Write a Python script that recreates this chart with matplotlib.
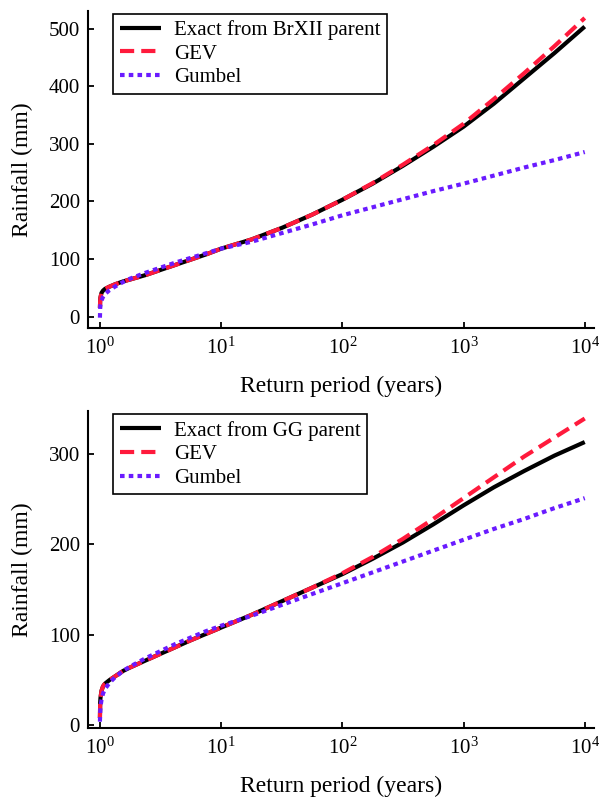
import matplotlib
matplotlib.use("Agg")
import matplotlib.pyplot as plt
from matplotlib.ticker import NullLocator

plt.rcParams['font.family'] = ['Liberation Serif', 'DejaVu Serif']
plt.rcParams['mathtext.fontset'] = 'custom'
plt.rcParams['mathtext.rm'] = 'Liberation Serif'
plt.rcParams['mathtext.it'] = 'Liberation Serif:italic'

# Return periods (years)
T = [1.0, 1.005, 1.01, 1.03, 1.06, 1.1, 1.2, 1.33, 1.55, 1.78, 2.37, 3.16, 4.22,
     5.62, 7.5, 10, 17.8, 31.6, 56.2, 100, 178, 316, 562, 1000, 1778, 3162,
     5623, 10000]

# Top panel: BrXII parent
brxii_exact = [15, 28, 33, 41, 45, 48, 52, 56, 61, 64.5, 72, 81, 90, 99, 108,
               118, 134, 154, 177, 203, 231, 262, 295, 330, 370, 414, 458, 504]
brxii_gev = [15, 28, 33, 41, 45, 48, 52, 56, 61, 64.5, 72, 81, 90, 99, 108,
             118, 134, 154, 177, 203, 232, 264, 298, 335, 378, 423, 470, 519]
brxii_gumbel = [-2, 15, 20, 28, 34, 39, 46, 52, 60, 66, 76, 85, 94, 102, 110,
                118, 130, 145, 160, 176, 190, 204, 218, 231, 245, 259, 272, 286]

# Bottom panel: GG parent
gg_exact = [8, 25, 30, 38, 43, 46, 50, 54, 60, 64, 71.5, 79, 86.5, 94, 101,
            108, 122, 137, 152, 167, 184, 202, 222, 243, 263, 281, 298, 313]
gg_gev = [8, 25, 30, 38, 43, 46, 50, 54, 60, 64, 71.5, 79, 86.5, 94, 101,
          108, 122, 137, 152, 168, 186, 206, 228, 251, 274, 297, 318, 339]
gg_gumbel = [4, 14, 20, 28, 35, 40, 47, 53, 60, 65, 74, 82, 90, 97, 104,
             110, 121, 133, 145, 157, 169, 181, 193, 205, 217, 228, 240, 251]

labels_top = ['Exact from BrXII parent', 'GEV', 'Gumbel']
labels_bot = ['Exact from GG parent', 'GEV', 'Gumbel']
xticks = [1, 10, 100, 1000, 10000]
yticks_top = [0, 100, 200, 300, 400, 500]
yticks_bot = [0, 100, 200, 300]

RED = '#ff1a3c'
BLUE = '#6a1bff'

fig = plt.figure(figsize=(6.04, 8.08), dpi=100)
ax1 = fig.add_axes([0.146, 0.594, 0.838, 0.393])
ax2 = fig.add_axes([0.146, 0.099, 0.838, 0.392])


def draw(ax, exact, gev, gum, labels, yticks, ylim):
    ax.plot(T, exact, color='black', lw=3.0, solid_capstyle='butt', label=labels[0])
    ax.plot(T, gev, color=RED, lw=3.0, ls=(0, (3.4, 1.7)), label=labels[1])
    ax.plot(T, gum, color=BLUE, lw=3.0, ls=(0, (1.1, 1.0)), label=labels[2])
    ax.set_xscale('log')
    ax.set_xlim(0.8, 12000)
    ax.set_ylim(*ylim)
    ax.set_xticks(xticks)
    ax.xaxis.set_minor_locator(NullLocator())
    ax.set_yticks(yticks)
    for s in ['top', 'right']:
        ax.spines[s].set_visible(False)
    for s in ['left', 'bottom']:
        ax.spines[s].set_linewidth(1.5)
    ax.tick_params(direction='in', length=4, width=1.3, labelsize=15, pad=6)
    ax.tick_params(axis='x', labelsize=15, pad=7)
    ax.set_xlabel('Return period (years)', fontsize=17, labelpad=12)
    ax.set_ylabel('Rainfall (mm)', fontsize=17, labelpad=11)
    leg = ax.legend(loc='upper left', bbox_to_anchor=(0.05, 0.99), fontsize=15,
                    fancybox=False, framealpha=1, edgecolor='black',
                    handlelength=2.0, handletextpad=0.6, borderpad=0.3,
                    labelspacing=0.2, borderaxespad=0.0)
    leg.get_frame().set_linewidth(1.2)


draw(ax1, brxii_exact, brxii_gev, brxii_gumbel, labels_top, yticks_top, (-20, 532))
draw(ax2, gg_exact, gg_gev, gg_gumbel, labels_bot, yticks_bot, (-3, 347))

fig.savefig('out.png', dpi=100)
